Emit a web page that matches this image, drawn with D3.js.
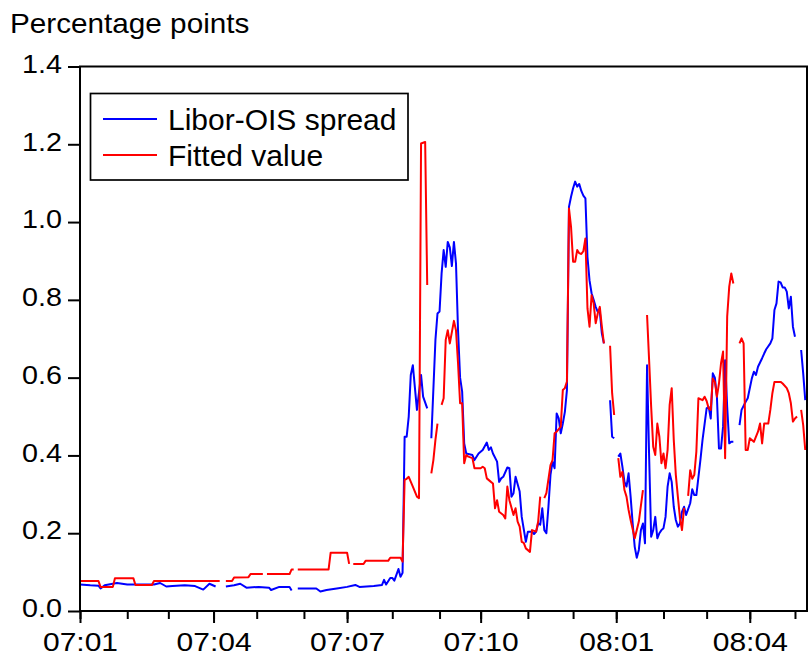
<!DOCTYPE html>
<html>
<head>
<meta charset="utf-8">
<script src="https://cdnjs.cloudflare.com/ajax/libs/d3/7.8.5/d3.min.js"></script>
<style>
body { margin: 0; background: #fff; }
svg { display: block; font-family: "Liberation Sans", Arial, sans-serif; }
</style>
</head>
<body>
<svg id="chart" width="809" height="656"></svg>
<script>
// daily (business day) observations, null = no observation
var spreadDates = ["2007-01-01","2007-01-08","2007-01-12","2007-01-15","2007-01-17","2007-01-25","2007-02-01","2007-02-09","2007-02-20","2007-02-23","2007-02-28","2007-03-05","2007-03-13","2007-03-20","2007-03-26","2007-03-29","2007-04-03","2007-04-06","2007-04-10","2007-04-16","2007-04-19","2007-04-24","2007-05-02","2007-05-09","2007-05-10","2007-05-16","2007-05-23","2007-05-24","2007-05-28","2007-05-29","2007-06-11","2007-06-13","2007-06-18","2007-06-25","2007-07-02","2007-07-06","2007-07-10","2007-07-19","2007-07-25","2007-07-26","2007-07-27","2007-07-31","2007-08-01","2007-08-02","2007-08-03","2007-08-06","2007-08-07","2007-08-08","2007-08-09","2007-08-10","2007-08-13","2007-08-14","2007-08-15","2007-08-17","2007-08-21","2007-08-22","2007-08-24","2007-08-27","2007-08-28","2007-08-30","2007-08-31","2007-09-03","2007-09-04","2007-09-05","2007-09-06","2007-09-07","2007-09-10","2007-09-11","2007-09-12","2007-09-13","2007-09-14","2007-09-17","2007-09-18","2007-09-19","2007-09-20","2007-09-25","2007-09-26","2007-09-28","2007-10-02","2007-10-04","2007-10-05","2007-10-08","2007-10-09","2007-10-11","2007-10-12","2007-10-15","2007-10-16","2007-10-18","2007-10-19","2007-10-22","2007-10-23","2007-10-24","2007-10-26","2007-10-29","2007-10-31","2007-11-01","2007-11-05","2007-11-06","2007-11-07","2007-11-08","2007-11-09","2007-11-12","2007-11-13","2007-11-14","2007-11-15","2007-11-16","2007-11-19","2007-11-20","2007-11-21","2007-11-22","2007-11-23","2007-11-26","2007-11-27","2007-11-28","2007-11-29","2007-11-30","2007-12-03","2007-12-04","2007-12-05","2007-12-06","2007-12-07","2007-12-10","2007-12-11","2007-12-12","2007-12-13","2007-12-14","2007-12-17","2007-12-18","2007-12-19","2007-12-20","2007-12-21","2007-12-24","2007-12-25","2007-12-27","2007-12-28","2007-12-31","2008-01-01","2008-01-02","2008-01-03","2008-01-04","2008-01-07","2008-01-08","2008-01-09","2008-01-10","2008-01-11","2008-01-14","2008-01-15","2008-01-16","2008-01-17","2008-01-18","2008-01-21","2008-01-22","2008-01-23","2008-01-24","2008-01-25","2008-01-28","2008-01-29","2008-01-30","2008-01-31","2008-02-01","2008-02-04","2008-02-05","2008-02-06","2008-02-07","2008-02-08","2008-02-11","2008-02-12","2008-02-13","2008-02-14","2008-02-15","2008-02-18","2008-02-20","2008-02-21","2008-02-22","2008-02-25","2008-02-27","2008-02-28","2008-03-03","2008-03-04","2008-03-05","2008-03-06","2008-03-07","2008-03-10","2008-03-11","2008-03-12","2008-03-13","2008-03-14","2008-03-17","2008-03-18","2008-03-19","2008-03-20","2008-03-21","2008-03-25","2008-03-26","2008-03-28","2008-03-31","2008-04-02","2008-04-03","2008-04-04","2008-04-07","2008-04-09","2008-04-10","2008-04-11","2008-04-15","2008-04-16","2008-04-17","2008-04-18","2008-04-21","2008-04-22","2008-04-23","2008-04-24","2008-04-25","2008-04-28","2008-04-29","2008-04-30","2008-05-01","2008-05-05","2008-05-06","2008-05-07","2008-05-08"]
var spread = [0.068,0.066,0.065,0.058,0.066,0.072,0.068,0.068,0.068,0.072,0.063,0.064,0.066,0.064,0.055,0.070,0.063,null,0.063,0.066,0.070,0.060,0.062,0.060,0.054,0.062,0.062,0.053,null,0.058,0.058,0.050,0.054,0.058,0.062,0.067,0.062,0.064,0.067,0.080,0.068,0.085,0.085,0.078,0.093,0.108,0.088,0.098,0.448,0.448,0.500,0.607,0.632,0.517,0.607,0.551,0.521,null,0.444,0.697,0.765,0.770,0.868,0.928,0.885,0.949,0.935,0.887,0.949,0.894,0.722,0.600,0.564,0.431,0.405,0.401,0.388,0.405,0.414,0.433,0.414,0.421,0.405,0.384,0.332,0.341,0.345,0.369,0.367,0.294,0.303,0.345,0.307,0.242,0.178,0.204,0.204,0.198,0.204,0.225,0.222,0.264,0.208,0.200,0.268,0.350,0.384,0.367,0.508,0.495,0.457,0.482,0.512,0.568,1.039,1.065,1.087,1.104,1.091,1.098,1.080,1.068,1.061,0.910,0.850,0.817,0.800,0.782,0.769,0.770,0.714,0.688,null,0.542,0.448,0.444,null,0.397,0.405,0.371,0.332,0.320,0.354,0.294,0.225,0.165,0.137,0.157,0.208,0.225,0.174,0.632,0.400,0.191,0.208,0.242,0.187,0.200,0.208,0.213,0.242,0.320,0.354,0.332,0.268,0.234,0.217,0.225,0.255,0.268,0.247,0.277,0.313,0.298,0.298,0.390,0.440,0.521,0.525,0.495,0.611,0.600,0.551,0.418,0.418,0.474,0.645,0.525,0.431,0.435,0.435,null,0.478,0.517,0.538,0.547,0.598,0.615,0.607,0.628,0.650,0.662,0.673,0.688,0.701,0.774,0.791,0.847,0.845,0.832,0.832,0.821,0.778,0.808,0.731,0.705,null,0.671,0.611,0.542]

var fittedDates = ["2007-01-01","2007-01-12","2007-01-15","2007-01-23","2007-01-24","2007-02-06","2007-02-07","2007-02-19","2007-02-20","2007-04-05","2007-04-06","2007-04-10","2007-04-13","2007-04-16","2007-04-25","2007-04-26","2007-05-04","2007-05-07","2007-05-08","2007-05-23","2007-05-24","2007-05-25","2007-05-28","2007-05-29","2007-06-19","2007-06-20","2007-07-02","2007-07-03","2007-07-04","2007-07-05","2007-07-12","2007-07-13","2007-07-30","2007-07-31","2007-08-07","2007-08-08","2007-08-09","2007-08-10","2007-08-13","2007-08-15","2007-08-17","2007-08-20","2007-08-21","2007-08-22","2007-08-23","2007-08-24","2007-08-27","2007-08-28","2007-08-29","2007-08-30","2007-08-31","2007-09-03","2007-09-04","2007-09-05","2007-09-06","2007-09-07","2007-09-10","2007-09-12","2007-09-13","2007-09-14","2007-09-17","2007-09-18","2007-09-19","2007-09-20","2007-09-21","2007-09-25","2007-09-26","2007-10-01","2007-10-02","2007-10-03","2007-10-04","2007-10-08","2007-10-09","2007-10-10","2007-10-11","2007-10-12","2007-10-16","2007-10-17","2007-10-18","2007-10-19","2007-10-23","2007-10-24","2007-10-25","2007-10-26","2007-10-29","2007-10-30","2007-10-31","2007-11-02","2007-11-05","2007-11-07","2007-11-08","2007-11-09","2007-11-12","2007-11-13","2007-11-14","2007-11-16","2007-11-19","2007-11-20","2007-11-21","2007-11-23","2007-11-26","2007-11-27","2007-11-28","2007-11-29","2007-11-30","2007-12-03","2007-12-04","2007-12-05","2007-12-06","2007-12-07","2007-12-10","2007-12-11","2007-12-12","2007-12-13","2007-12-14","2007-12-17","2007-12-18","2007-12-19","2007-12-20","2007-12-21","2007-12-24","2007-12-25","2007-12-27","2007-12-28","2007-12-31","2008-01-01","2008-01-02","2008-01-03","2008-01-04","2008-01-07","2008-01-08","2008-01-09","2008-01-10","2008-01-14","2008-01-15","2008-01-16","2008-01-18","2008-01-21","2008-01-22","2008-01-23","2008-01-24","2008-01-25","2008-01-28","2008-01-29","2008-01-30","2008-01-31","2008-02-01","2008-02-04","2008-02-05","2008-02-06","2008-02-07","2008-02-08","2008-02-11","2008-02-12","2008-02-13","2008-02-14","2008-02-15","2008-02-18","2008-02-19","2008-02-20","2008-02-21","2008-02-22","2008-02-25","2008-02-26","2008-02-28","2008-02-29","2008-03-03","2008-03-04","2008-03-05","2008-03-06","2008-03-07","2008-03-10","2008-03-11","2008-03-12","2008-03-13","2008-03-14","2008-03-17","2008-03-18","2008-03-19","2008-03-20","2008-03-21","2008-03-25","2008-03-26","2008-03-27","2008-03-28","2008-03-31","2008-04-01","2008-04-03","2008-04-07","2008-04-08","2008-04-09","2008-04-10","2008-04-14","2008-04-15","2008-04-16","2008-04-17","2008-04-18","2008-04-22","2008-04-23","2008-04-25","2008-04-28","2008-04-29","2008-04-30","2008-05-01","2008-05-02","2008-05-05","2008-05-06","2008-05-07","2008-05-08"]
var fitted = [0.077,0.077,0.062,0.062,0.084,0.084,0.067,0.067,0.077,0.077,null,0.077,0.077,0.086,0.087,0.095,0.095,null,0.095,0.095,0.107,0.107,null,0.107,0.107,0.150,0.150,0.121,null,0.121,0.121,0.129,0.129,0.137,0.137,0.127,0.337,0.340,0.345,0.320,0.294,0.290,1.202,1.204,1.206,0.838,null,0.354,0.388,0.440,0.482,null,0.530,0.547,0.697,0.722,0.688,0.746,0.722,0.637,0.534,0.534,0.380,0.401,0.397,0.393,0.367,0.367,0.371,0.367,0.341,0.332,0.328,0.264,0.285,0.255,0.247,0.238,0.320,0.285,0.247,0.264,0.230,0.217,0.178,0.175,0.161,0.152,0.208,0.204,0.230,0.294,null,0.290,0.303,0.375,0.388,0.457,0.461,0.474,0.568,0.573,0.590,1.035,0.988,0.898,0.898,0.928,0.920,0.918,0.925,0.958,0.778,0.731,0.812,0.791,0.740,0.765,0.782,0.731,0.688,null,0.682,0.560,0.504,null,0.393,0.345,0.358,0.311,0.294,0.260,0.234,0.187,0.208,0.230,0.311,null,0.761,0.645,0.525,0.422,0.401,0.482,0.448,0.380,0.405,0.367,0.414,0.530,0.573,0.440,0.350,0.294,0.240,0.208,0.265,null,0.296,0.362,0.340,0.350,0.410,0.547,0.542,0.551,0.540,0.521,0.517,0.598,0.589,0.551,0.585,0.637,0.667,0.393,0.757,0.834,0.868,0.842,null,0.688,0.701,0.688,0.414,0.414,0.444,0.435,0.461,0.482,0.431,0.482,0.482,0.517,0.560,0.589,0.589,0.589,0.585,0.573,0.560,0.534,0.487,0.495,0.500,null,0.517,0.478,0.414]

var seriesNames = ["Libor-OIS spread", "Fitted value"]
var seriesColors = ["#0000ff", "#ff0000"]
var yTicks = [0, 0.2, 0.4, 0.6, 0.8, 1.0, 1.2, 1.4]
var firstMonth = "2007-01-01", lastMonth = "2008-05-01"

var dimensions = {
    width: 809,
    height: 656,
    margin: { top: 66.5, bottom: 45, left: 80, right: 2 }
}

var parseDate = d3.timeParse("%Y-%m-%d")
var start = parseDate(firstMonth)
var isWeekday = t => t.getDay() != 0 && t.getDay() != 6

// position on a business-day axis (weekends take no space)
function bday(d) {
    return d3.timeDay.range(start, d).filter(isWeekday).length
}

function toPoints(dates, values) {
    return dates.map((s, k) => ({ i: bday(parseDate(s)), v: values[k] }))
}
var series = [toPoints(spreadDates, spread), toPoints(fittedDates, fitted)]

var svg = d3.select("#chart")

var xScale = d3.scaleLinear()
               .domain([0, 353.85])
               .range([dimensions.margin.left, dimensions.width - dimensions.margin.right])

var yScale = d3.scaleLinear()
               .domain([0, 1.4])
               .range([dimensions.height - dimensions.margin.bottom, dimensions.margin.top])

// month ticks sit on the first business day of each month
var months = d3.timeMonth.range(start, d3.timeMonth.offset(parseDate(lastMonth), 1)).map(m => {
    var d = m
    while (!isWeekday(d)) d = d3.timeDay.offset(d, 1)
    return { date: m, i: bday(d) }
})
var majorMonths = months.filter(m => m.date.getMonth() % 3 == 0)
var fmt = d3.timeFormat("%y:%m")

var plotBottom = dimensions.height - dimensions.margin.bottom

var minorAxis = svg.append("g")
                   .attr("transform", `translate(0,${plotBottom})`)
                   .call(d3.axisBottom(xScale)
                           .tickValues(months.map(m => m.i))
                           .tickSize(8)
                           .tickFormat(""))

var majorAxis = svg.append("g")
                   .attr("transform", `translate(0,${plotBottom})`)
                   .call(d3.axisBottom(xScale)
                           .tickValues(majorMonths.map(m => m.i))
                           .tickSize(12)
                           .tickFormat((v, k) => fmt(majorMonths[k].date)))

majorAxis.selectAll("text")
         .attr("y", 0)
         .attr("dy", 0)
         .attr("transform", "translate(0,39.5) scale(1.2,1)")

var yAxis = svg.append("g")
               .attr("transform", `translate(${dimensions.margin.left},0)`)
               .call(d3.axisLeft(yScale)
                       .tickValues(yTicks)
                       .tickSize(12)
                       .tickFormat(d3.format(".1f")))

yAxis.selectAll("text")
     .attr("x", 0)
     .attr("dy", "0.23em")
     .attr("transform", "translate(-18,0) scale(1.15,1)")

svg.selectAll(".domain").remove()
svg.selectAll(".tick line").attr("stroke", "black").attr("stroke-width", 2)
svg.selectAll(".tick text")
   .attr("fill", "black")
   .style("font-size", "25px")
   .style("font-family", "'Liberation Sans', Arial, sans-serif")

var line = d3.line()
             .defined(d => d.v != null)
             .x(d => xScale(d.i))
             .y(d => yScale(d.v))

svg.append("g")
   .selectAll(".series")
   .data(series)
   .enter()
   .append("path")
   .attr("class", "series")
   .attr("d", d => line(d))
   .attr("fill", "none")
   .attr("stroke", (d, k) => seriesColors[k])
   .attr("stroke-width", 2)
   .attr("stroke-linejoin", "round")

// plot frame
svg.append("rect")
   .attr("x", dimensions.margin.left)
   .attr("y", dimensions.margin.top)
   .attr("width", dimensions.width - dimensions.margin.right - dimensions.margin.left)
   .attr("height", plotBottom - dimensions.margin.top)
   .attr("fill", "none")
   .attr("stroke", "black")
   .attr("stroke-width", 2)

var unitLabel = svg.append("text")
                   .attr("transform", "translate(10,33) scale(1.1,1)")
                   .style("font-size", "27px")
                   .text("Percentage points")

// legend
var legend = svg.append("g")
legend.append("rect")
      .attr("x", 90.5)
      .attr("y", 93.5)
      .attr("width", 317.5)
      .attr("height", 86.5)
      .attr("fill", "white")
      .attr("stroke", "black")
      .attr("stroke-width", 1.7)

var items = legend.selectAll(".item")
                  .data(seriesNames)
                  .enter()
                  .append("g")
                  .attr("class", "item")
                  .attr("transform", (d, k) => `translate(0,${119 + k * 36})`)

items.append("line")
     .attr("x1", 103)
     .attr("x2", 157)
     .attr("stroke", (d, k) => seriesColors[k])
     .attr("stroke-width", 2)

items.append("text")
     .attr("x", 168)
     .attr("y", 11)
     .style("font-size", "30px")
     .text(d => d)
</script>
</body>
</html>
